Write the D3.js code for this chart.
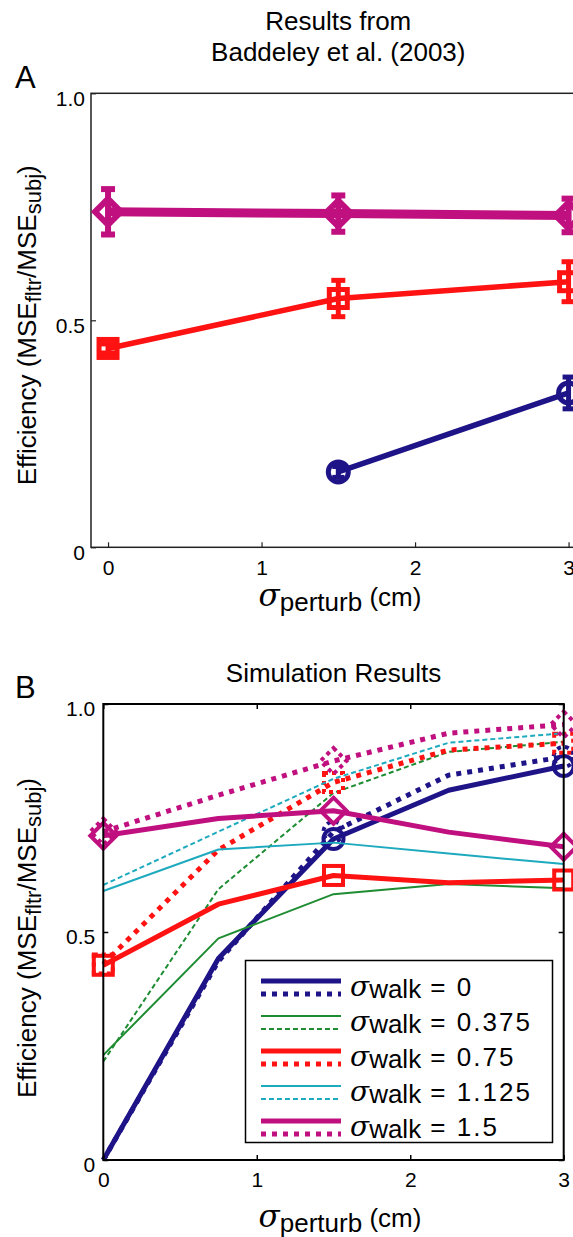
<!DOCTYPE html>
<html><head><meta charset="utf-8">
<script src="https://cdn.jsdelivr.net/npm/d3@7"></script>
<style>
body{margin:0;background:#fff}
svg{display:block}
text{font-family:"Liberation Sans",Arial,Helvetica,sans-serif;fill:#000}
.sig{font-family:"DejaVu Serif","Liberation Serif",serif;font-style:italic}
</style>
</head><body><svg id="c" width="573" height="1237"></svg>
<script>
// ---------- DATA ----------
// Panel A: Baddeley et al. (2003)
const xExp = [0, 1.5, 3];
const expWalk0 = [null, 0.166, 0.340];
const expWalk0Err = [null, 0.012, 0.035];
const expWalk075 = [0.438, 0.548, 0.585];
const expWalk075Err = [0.010, 0.040, 0.044];
const expWalk15 = [0.739, 0.735, 0.731];
const expWalk15Err = [0.050, 0.040, 0.037];

// Panel B: Simulation results
const xSim = [0, 0.75, 1.5, 2.25, 3];
const simWalk0Solid = [0, 0.442, 0.704, 0.811, 0.864];
const simWalk0Dotted = [0, 0.436, 0.720, 0.844, 0.884];
const simWalk0375Solid = [0.230, 0.486, 0.583, 0.605, 0.596];
const simWalk0375Dashed = [0.216, 0.594, 0.805, 0.895, 0.917];
const simWalk075Solid = [0.427, 0.561, 0.624, 0.608, 0.614];
const simWalk075Dotted = [0.430, 0.680, 0.828, 0.899, 0.914];
const simWalk1125Solid = [0.590, 0.681, 0.696, 0.672, 0.649];
const simWalk1125Dashed = [0.603, 0.720, 0.836, 0.915, 0.936];
const simWalk15Solid = [0.711, 0.749, 0.766, 0.719, 0.687];
const simWalk15Dotted = [0.720, 0.800, 0.875, 0.936, 0.955];
const markerX = [0, 1.5, 3];

const walkLabels = ["0", "0.375", "0.75", "1.125", "1.5"];
const xTicks = [0, 1, 2, 3];
const yTicks = [0, 0.5, 1];
const yTickLabels = ["0", "0.5", "1.0"];

// ---------- STYLE ----------
const C = {blue:"#1e1487", green:"#1e8c32", red:"#ff1212", cyan:"#1eaabe", mag:"#c0107f"};

const svg = d3.select("#c");

function yLabel(g, cx, cy){
  const t = g.append("text").attr("transform",`translate(${cx},${cy}) rotate(-90)`)
    .attr("text-anchor","middle").style("font-size","26px");
  t.append("tspan").text("Efficiency (MSE");
  t.append("tspan").attr("dy",5).style("font-size","22px").text("fltr");
  t.append("tspan").attr("dy",-5).text("/MSE");
  t.append("tspan").attr("dy",5).style("font-size","22px").text("subj");
  t.append("tspan").attr("dy",-5).text(")");
}
function xLabel(g, cx, by){
  const t = g.append("text").attr("x",cx).attr("y",by).attr("text-anchor","middle").style("font-size","26px");
  t.append("tspan").attr("class","sig").style("font-size","31px").text("σ");
  t.append("tspan").attr("dy",5).text("perturb");
  t.append("tspan").attr("dy",-5).text(" (cm)");
}

function marker(g, type, x, y, color, sw, size, dash){
  let el;
  if(type==="circle"){
    el = g.append("circle").attr("cx",x).attr("cy",y).attr("r",size);
  } else if(type==="square"){
    el = g.append("rect").attr("x",x-size).attr("y",y-size).attr("width",2*size).attr("height",2*size);
  } else {
    el = g.append("path").attr("d",`M${x},${y-size}L${x+size},${y}L${x},${y+size}L${x-size},${y}Z`);
  }
  el.attr("fill","none").attr("stroke",color).attr("stroke-width",sw);
  if(dash) el.attr("stroke-dasharray",dash);
  return el;
}
function styleAxis(a, color, sw){
  a.select(".domain").remove();
  a.selectAll("text").style("font-size","21px").attr("fill","#000")
    .style("font-family","Liberation Sans, Arial, sans-serif");
  a.selectAll("line").attr("stroke",color).attr("stroke-width",sw);
}

// ================= PANEL A =================
const xA = d3.scaleLinear().domain([-0.111, 3.111]).range([91, 585.6]);
const yA = d3.scaleLinear().domain([0, 1]).range([547.3, 93.3]);
const gA = svg.append("g");

gA.append("text").attr("x",(xA.range()[0]+xA.range()[1])/2).attr("y",30).attr("text-anchor","middle").style("font-size","26px").text("Results from");
gA.append("text").attr("x",(xA.range()[0]+xA.range()[1])/2).attr("y",61).attr("text-anchor","middle").style("font-size","26px").text("Baddeley et al. (2003)");
gA.append("text").attr("x",15).attr("y",88).style("font-size","31px").text("A");

gA.append("rect").attr("x",xA.range()[0]).attr("y",yA.range()[1])
  .attr("width",xA.range()[1]-xA.range()[0]).attr("height",yA.range()[0]-yA.range()[1])
  .attr("fill","none").attr("stroke","#222").attr("stroke-width",1.5);

const axA = gA.append("g").attr("transform",`translate(0,${yA.range()[0]})`)
  .call(d3.axisBottom(xA).tickValues(xTicks).tickSize(-5).tickPadding(13).tickFormat(d3.format("d")));
const ayA = gA.append("g").attr("transform",`translate(${xA.range()[0]},0)`)
  .call(d3.axisLeft(yA).tickValues(yTicks).tickSize(-5).tickPadding(6).tickFormat((d,i)=>yTickLabels[i]));
styleAxis(axA, "#222", 1.2); styleAxis(ayA, "#222", 1.2);
ayA.selectAll("text").attr("dy","0.57em");

yLabel(gA, 36, (yA.range()[0]+yA.range()[1])/2 + 5);
xLabel(gA, 340, 606);

const expSeries = [
  {v:expWalk0, e:expWalk0Err, color:C.blue, w:5.5, m:"circle", ms:10, msw:5, cap:6},
  {v:expWalk075, e:expWalk075Err, color:C.red, w:5.5, m:"square", ms:9, msw:5, cap:7},
  {v:expWalk15, e:expWalk15Err, color:C.mag, w:9, m:"diamond", ms:13, msw:6, cap:7}
];
expSeries.forEach(s=>{
  const pts = xExp.map((x,i)=>({x, y:s.v[i], e:s.e[i]})).filter(d=>d.y!==null);
  gA.append("path").datum(pts)
    .attr("d", d3.line().x(d=>xA(d.x)).y(d=>yA(d.y)))
    .attr("fill","none").attr("stroke",s.color).attr("stroke-width",s.w).attr("stroke-linejoin","round");
  pts.forEach(d=>{
    const px = xA(d.x);
    gA.append("line").attr("x1",px).attr("x2",px).attr("y1",yA(d.y-d.e)).attr("y2",yA(d.y+d.e))
      .attr("stroke",s.color).attr("stroke-width",s.msw);
    [d.y-d.e, d.y+d.e].forEach(v=>{
      gA.append("line").attr("x1",px-s.cap).attr("x2",px+s.cap).attr("y1",yA(v)).attr("y2",yA(v))
        .attr("stroke",s.color).attr("stroke-width",s.msw);
    });
    marker(gA, s.m, px, yA(d.y), s.color, s.msw, s.ms);
  });
});

// ================= PANEL B =================
const xB = d3.scaleLinear().domain([0, 3]).range([103.3, 563.7]);
const yB = d3.scaleLinear().domain([0, 1]).range([1160, 704]);
const gB = svg.append("g");

gB.append("text").attr("x",(xB.range()[0]+xB.range()[1])/2).attr("y",682).attr("text-anchor","middle").style("font-size","26px").text("Simulation Results");
gB.append("text").attr("x",15).attr("y",698).style("font-size","31px").text("B");

const simSeries = [
  {v:simWalk0Solid, color:C.blue, w:5, dash:null, m:"circle"},
  {v:simWalk0Dotted, color:C.blue, w:5, dash:"5,6", m:"circle"},
  {v:simWalk0375Solid, color:C.green, w:2, dash:null, m:null},
  {v:simWalk0375Dashed, color:C.green, w:2, dash:"5,3", m:null},
  {v:simWalk075Solid, color:C.red, w:5, dash:null, m:"square"},
  {v:simWalk075Dotted, color:C.red, w:5, dash:"5,6", m:"square"},
  {v:simWalk1125Solid, color:C.cyan, w:2, dash:null, m:null},
  {v:simWalk1125Dashed, color:C.cyan, w:2, dash:"5,3", m:null},
  {v:simWalk15Solid, color:C.mag, w:5, dash:null, m:"diamond"},
  {v:simWalk15Dotted, color:C.mag, w:5, dash:"5,6", m:"diamond"}
];
const msize = {circle:10, square:9.5, diamond:13};
simSeries.forEach(s=>{
  const pts = xSim.map((x,i)=>({x, y:s.v[i]}));
  gB.append("path").datum(pts)
    .attr("d", d3.line().x(d=>xB(d.x)).y(d=>yB(d.y)))
    .attr("fill","none").attr("stroke",s.color).attr("stroke-width",s.w)
    .attr("stroke-dasharray",s.dash).attr("stroke-linejoin","round");
  if(s.m){
    pts.filter(d=>markerX.includes(d.x) && d.y>0).forEach(d=>{
      marker(gB, s.m, xB(d.x), yB(d.y), s.color, 4, msize[s.m], s.dash?"4,4":null);
    });
  }
});

// box
gB.append("rect").attr("x",xB.range()[0]).attr("y",yB.range()[1])
  .attr("width",xB.range()[1]-xB.range()[0]).attr("height",yB.range()[0]-yB.range()[1])
  .attr("fill","none").attr("stroke","#000").attr("stroke-width",2);

const axB = gB.append("g").attr("transform",`translate(0,${yB.range()[0]})`)
  .call(d3.axisBottom(xB).tickValues(xTicks).tickSize(-5).tickPadding(12).tickFormat(d3.format("d")));
const axBt = gB.append("g").attr("transform",`translate(0,${yB.range()[1]})`)
  .call(d3.axisTop(xB).tickValues(xTicks).tickSize(-5).tickFormat(""));
const ayB = gB.append("g").attr("transform",`translate(${xB.range()[0]},0)`)
  .call(d3.axisLeft(yB).tickValues(yTicks).tickSize(-5).tickPadding(8).tickFormat((d,i)=>yTickLabels[i]));
const ayBr = gB.append("g").attr("transform",`translate(${xB.range()[1]},0)`)
  .call(d3.axisRight(yB).tickValues(yTicks).tickSize(-5).tickFormat(""));
[axB, axBt, ayB, ayBr].forEach(a=>styleAxis(a, "#000", 1.5));
ayB.selectAll("text").attr("dy","0.57em");

yLabel(gB, 36, (yB.range()[0]+yB.range()[1])/2 + 6);
xLabel(gB, 340, 1227);

// legend
const leg = gB.append("g");
leg.append("rect").attr("x",245.5).attr("y",960.5).attr("width",307).attr("height",182)
  .attr("fill","#fff").attr("stroke","#000").attr("stroke-width",1.5);
const legColors = [C.blue, C.green, C.red, C.cyan, C.mag];
const legW = [5, 2, 5, 2, 5];
walkLabels.forEach((lab,i)=>{
  const y0 = 981 + i*35;
  leg.append("line").attr("x1",261).attr("x2",341).attr("y1",y0).attr("y2",y0)
    .attr("stroke",legColors[i]).attr("stroke-width",legW[i]);
  leg.append("line").attr("x1",261).attr("x2",341).attr("y1",y0+13).attr("y2",y0+13)
    .attr("stroke",legColors[i]).attr("stroke-width",legW[i])
    .attr("stroke-dasharray", legW[i]>3 ? "5,6" : "5,3");
  const t = leg.append("text").attr("x",350).attr("y",y0+15).style("font-size","26px");
  t.append("tspan").attr("class","sig").style("font-size","28px").text("σ");
  t.append("tspan").attr("dy",2).text("walk");
  t.append("tspan").attr("dy",-2).style("letter-spacing","2px").text(" = " + lab);
});
</script>
</body></html>
